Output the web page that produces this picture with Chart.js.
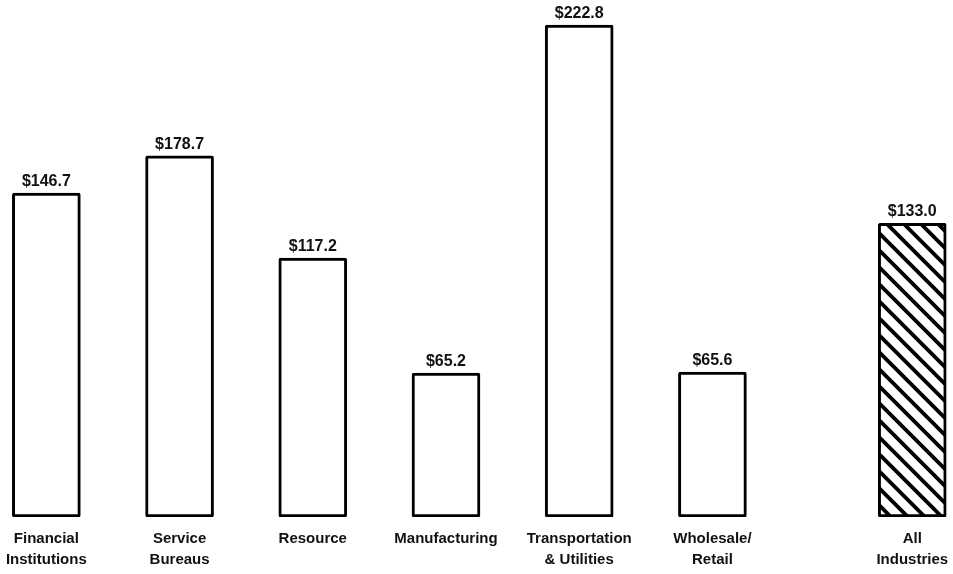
<!DOCTYPE html>
<html>
<head>
<meta charset="utf-8">
<script src="https://cdn.jsdelivr.net/npm/chart.js@4"></script>
<style>
  html, body { margin: 0; padding: 0; background: #fff; }
  #wrap { width: 953px; height: 574px; position: relative; }
</style>
</head>
<body>
<div id="wrap"><canvas id="c"></canvas></div>
<script>
// Categories (multi-line labels under each bar)
const categories = [
  ['Financial', 'Institutions'],
  ['Service', 'Bureaus'],
  'Resource',
  'Manufacturing',
  ['Transportation', '& Utilities'],
  ['Wholesale/', 'Retail'],
  ['All', 'Industries'],
];
// Slot positions along the x axis (the "All Industries" bar sits after a wider gap)
const positions = [0, 1, 2, 3, 4, 5, 6.5];
// Bar heights as drawn (Service Bureaus is drawn shorter than its printed value)
const values = [146.7, 163.5, 117.2, 65.2, 222.8, 65.6, 133.0];
// Printed value labels
const valueLabels = ['$146.7', '$178.7', '$117.2', '$65.2', '$222.8', '$65.6', '$133.0'];

function hatchPattern() {
  const s = 17;
  const c = document.createElement('canvas');
  c.width = s; c.height = s;
  const g = c.getContext('2d');
  g.fillStyle = '#fff';
  g.fillRect(0, 0, s, s);
  g.strokeStyle = '#000';
  g.lineWidth = 3.8;
  g.beginPath();
  g.moveTo(-2, -2); g.lineTo(s + 2, s + 2);
  g.moveTo(-2, s - 2); g.lineTo(2, s + 2);
  g.moveTo(s - 2, -2); g.lineTo(s + 2, 2);
  g.stroke();
  return g.createPattern(c, 'repeat');
}

const hatch = hatchPattern();

const valueLabelPlugin = {
  id: 'valueLabels',
  afterDatasetsDraw(chart) {
    const ctx = chart.ctx;
    const meta = chart.getDatasetMeta(0);
    ctx.save();
    ctx.font = 'bold 16px "Liberation Sans", Arial, sans-serif';
    ctx.fillStyle = '#111';
    ctx.textAlign = 'center';
    ctx.textBaseline = 'alphabetic';
    meta.data.forEach((bar, i) => {
      ctx.fillText(valueLabels[i], bar.x, bar.y - 7);
    });
    ctx.restore();
  },
};

new Chart(document.getElementById('c'), {
  type: 'bar',
  data: {
    datasets: [{
      data: positions.map((x, i) => ({ x, y: values[i] })),
      backgroundColor: values.map((v, i) => i === values.length - 1 ? hatch : '#fff'),
      borderColor: '#000',
      borderWidth: 3,
      borderSkipped: false,
      borderRadius: 2,
      barThickness: 68,
    }],
  },
  options: {
    responsive: true,
    maintainAspectRatio: false,
    animation: false,
    layout: { autoPadding: false, padding: { top: 0, bottom: -7, left: 0, right: 0 } },
    plugins: {
      legend: { display: false },
      tooltip: { enabled: false },
    },
    scales: {
      x: {
        type: 'linear',
        offset: false,
        min: -0.348,
        max: 6.806,
        grid: { display: false, drawTicks: false },
        border: { display: false },
        afterBuildTicks: (scale) => {
          scale.ticks = positions.map(v => ({ value: v }));
        },
        // keep the outer labels from shrinking the plot area
        afterFit: (scale) => {
          scale.paddingLeft = 0;
          scale.paddingRight = 0;
        },
        ticks: {
          autoSkip: false,
          maxRotation: 0,
          minRotation: 0,
          padding: 11,
          color: '#111',
          font: { family: '"Liberation Sans", Arial, sans-serif', size: 15, weight: 'bold', lineHeight: 1.4 },
          callback: (value, index) => categories[index],
        },
      },
      y: {
        display: false,
        min: 0,
        max: 234.1,
      },
    },
  },
  plugins: [valueLabelPlugin],
});
</script>
</body>
</html>
